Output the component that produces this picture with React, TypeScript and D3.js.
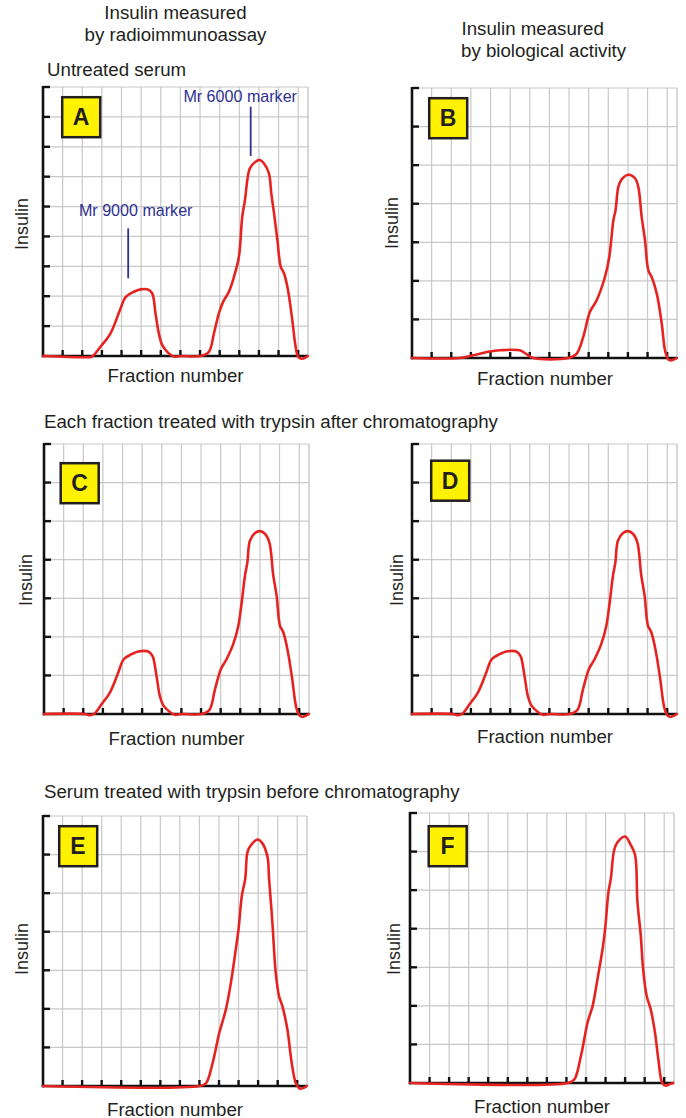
import React from "react";
import * as d3 from "d3";

// ---------- DATA (fraction number, insulin) ----------
const curveA: [number, number][] = [
  [0, 0], [2.33, -0.04], [2.5, -0.02], [2.93, 0.31], [3.44, 0.76], [3.95, 1.59], [4.2, 1.96],
  [4.63, 2.15], [4.97, 2.23], [5.31, 2.23], [5.56, 2.1], [5.73, 1.43], [5.9, 0.76], [6.07, 0.37],
  [6.33, 0.14], [6.67, -0.02], [7.0, 0], [8.03, 0], [8.45, 0.14], [8.71, 0.76], [8.96, 1.43],
  [9.18, 1.82], [9.47, 2.15], [9.73, 2.65], [9.98, 3.32], [10.15, 4.66], [10.29, 5.22],
  [10.41, 5.89], [10.54, 6.28], [10.83, 6.5], [11.05, 6.56], [11.26, 6.44], [11.51, 6.11],
  [11.63, 5.44], [11.77, 4.77], [11.94, 3.88], [12.11, 2.99], [12.28, 2.76], [12.48, 2.21],
  [12.7, 1.2], [12.87, 0.31], [13.01, -0.04], [13.21, -0.09], [13.5, 0],
];

const curveB: [number, number][] = [
  [0, 0], [2.43, 0], [3.11, 0.07], [3.96, 0.17], [4.47, 0.2], [5.49, 0.2], [5.83, 0.1],
  [6.17, 0], [7.96, 0], [8.38, 0.11], [8.72, 0.54], [9.06, 1.19], [9.4, 1.49], [9.83, 2.1],
  [10.05, 2.62], [10.26, 3.57], [10.37, 3.83], [10.51, 4.43], [10.68, 4.63], [11.02, 4.75],
  [11.36, 4.66], [11.53, 4.43], [11.7, 3.66], [11.87, 3.05], [12.04, 2.27], [12.21, 2.1],
  [12.47, 1.67], [12.72, 0.9], [12.89, 0.2], [13.06, -0.04], [13.23, -0.06], [13.5, 0],
];

const curveCD: [number, number][] = [
  [0, 0], [2.07, 0], [2.36, -0.03], [2.59, 0.02], [2.93, 0.25], [3.35, 0.55], [3.78, 1.07],
  [4.06, 1.42], [4.46, 1.55], [4.8, 1.62], [5.31, 1.62], [5.53, 1.5], [5.73, 0.99], [5.9, 0.47],
  [6.07, 0.23], [6.41, 0.05], [6.67, -0.02], [7.0, 0], [8.03, 0], [8.42, 0.1], [8.71, 0.64],
  [9.01, 1.16], [9.3, 1.42], [9.64, 1.81], [9.9, 2.29], [10.07, 2.89], [10.24, 3.59],
  [10.36, 3.93], [10.49, 4.49], [10.75, 4.69], [11.0, 4.74], [11.26, 4.67], [11.48, 4.45],
  [11.68, 3.59], [11.85, 3.07], [12.02, 2.29], [12.19, 2.12], [12.4, 1.68], [12.62, 1.0],
  [12.87, 0.13], [13.04, -0.05], [13.21, -0.07], [13.5, 0],
];

const curveE: [number, number][] = [
  [0, 0], [7.99, 0], [8.33, 0.07], [8.67, 0.59], [9.01, 1.37], [9.35, 1.98], [9.61, 2.68],
  [9.86, 3.55], [10.0, 4.07], [10.17, 4.94], [10.34, 5.37], [10.46, 6.07], [10.63, 6.24],
  [10.97, 6.39], [11.22, 6.29], [11.48, 5.94], [11.56, 5.37], [11.73, 4.24], [11.9, 2.94],
  [12.07, 2.33], [12.24, 2.07], [12.5, 1.46], [12.72, 0.59], [12.93, 0.07], [13.1, -0.06],
  [13.27, -0.06], [13.5, 0],
];

const curveF: [number, number][] = [
  [0, 0], [8.07, 0], [8.4, 0.09], [8.74, 0.7], [9.08, 1.57], [9.34, 2.0], [9.59, 2.7],
  [9.85, 3.48], [9.98, 4.0], [10.15, 4.96], [10.27, 5.3], [10.44, 6.04], [10.61, 6.24],
  [11.0, 6.39], [11.29, 6.17], [11.51, 5.91], [11.63, 4.7], [11.8, 3.83], [11.92, 2.96],
  [12.1, 2.26], [12.31, 1.91], [12.53, 1.3], [12.7, 0.61], [12.9, 0], [13.07, -0.07],
  [13.24, -0.04], [13.46, 0],
];

const fractionTicks = d3.range(1, 14);
const xMax = 13.5;
const yLabel = "Insulin";
const xLabel = "Fraction number";
const markerLabels = ["Mr 9000 marker", "Mr 6000 marker"];
const markerFractions = [4.34, 10.58];
const markerRanges: [number, number][] = [[2.6, 4.27], [6.69, 8.34]];

// ---------- LAYOUT ----------
const markerTextOffsets = [[7.5, 216], [-10.5, 101.7]];
const panels = [
  { letter: "A", data: curveA, yMax: 9, left: 43, top: 87, w: 265, h: 269, box: [61, 96], yl: [28, 224], xl: [175.5, 382] },
  { letter: "B", data: curveB, yMax: 7, left: 412, top: 88, w: 265, h: 270, box: [428, 97], yl: [398, 223], xl: [545, 385] },
  { letter: "C", data: curveCD, yMax: 7, left: 44, top: 444, w: 265, h: 270, box: [59.5, 462], yl: [32, 580], xl: [176.5, 745] },
  { letter: "D", data: curveCD, yMax: 7, left: 412, top: 444, w: 265, h: 270, box: [430, 459.5], yl: [402.5, 580], xl: [545, 743] },
  { letter: "E", data: curveE, yMax: 7, left: 43, top: 816, w: 264, h: 270, box: [58, 825], yl: [27.5, 949], xl: [175, 1115.5] },
  { letter: "F", data: curveF, yMax: 7, left: 410, top: 813, w: 264, h: 270, box: [427.5, 825], yl: [400, 949], xl: [542, 1113] },
];

const FONT = "'Liberation Sans', Arial, Helvetica, sans-serif";
const TEXT = "#231f20";
const RED = "#e52421";
const GRID = "#c8c8c8";
const BLUE = "#2e3192";
const FS = 18.7;

function Panel({ p }: { p: (typeof panels)[number] }) {
  const x = d3.scaleLinear().domain([0, xMax]).range([0, p.w]);
  const y = d3.scaleLinear().domain([0, p.yMax]).range([p.h, 0]);
  const yTicks = d3.range(1, p.yMax + 1);
  const line = d3
    .line<[number, number]>()
    .x((d) => x(d[0]))
    .y((d) => y(d[1]))
    .curve(d3.curveCatmullRom.alpha(0.5));
  return (
    <g>
      <g transform={`translate(${p.left},${p.top})`}>
        {fractionTicks.map((t) => (
          <line key={"gx" + t} x1={x(t)} x2={x(t)} y1={0} y2={p.h} stroke={GRID} strokeWidth={1.2} />
        ))}
        {yTicks.map((t) => (
          <line key={"gy" + t} x1={0} x2={p.w} y1={y(t)} y2={y(t)} stroke={GRID} strokeWidth={1.2} />
        ))}
        <line x1={p.w} x2={p.w} y1={0} y2={p.h} stroke={GRID} strokeWidth={1.4} />
        <line x1={0} x2={0} y1={-1} y2={p.h + 1.2} stroke="#111" strokeWidth={2.6} />
        <line x1={-1.2} x2={p.w} y1={p.h} y2={p.h} stroke="#111" strokeWidth={2.6} />
        {yTicks.map((t) => (
          <line key={"ty" + t} x1={0} x2={7} y1={y(t)} y2={y(t)} stroke="#111" strokeWidth={2.4} />
        ))}
        {fractionTicks.map((t) => (
          <line key={"tx" + t} x1={x(t)} x2={x(t)} y1={p.h} y2={p.h - 6} stroke="#111" strokeWidth={2.4} />
        ))}
        <path d={line(p.data) || ""} fill="none" stroke={RED} strokeWidth={2.6} strokeLinejoin="round" strokeLinecap="round" />
        {p.letter === "A" &&
          markerLabels.map((m, i) => (
            <g key={m}>
              <line
                x1={x(markerFractions[i])}
                x2={x(markerFractions[i])}
                y1={y(markerRanges[i][0])}
                y2={y(markerRanges[i][1])}
                stroke={BLUE}
                strokeWidth={1.8}
              />
              <text
                x={x(markerFractions[i]) + markerTextOffsets[i][0]}
                y={markerTextOffsets[i][1] - p.top}
                textAnchor="middle"
                fontSize={16.1}
                fill={BLUE}
                fontFamily={FONT}
              >
                {m}
              </text>
            </g>
          ))}
      </g>
      <rect x={p.box[0] + 1.2} y={p.box[1] + 1.2} width={38} height={40} fill="#fff200" stroke="#231f20" strokeWidth={2.5} />
      <text x={p.box[0] + 20} y={p.box[1] + 29} textAnchor="middle" fontSize={23} fontWeight="bold" fill={TEXT} fontFamily={FONT}>
        {p.letter}
      </text>
      <text
        transform={`translate(${p.yl[0]},${p.yl[1]}) rotate(-90)`}
        textAnchor="middle"
        fontSize={18}
        fill={TEXT}
        fontFamily={FONT}
      >
        {yLabel}
      </text>
      <text x={p.xl[0]} y={p.xl[1]} textAnchor="middle" fontSize={FS} fill={TEXT} fontFamily={FONT}>
        {xLabel}
      </text>
    </g>
  );
}

export default function App() {
  return (
    <svg width={686} height={1118} style={{ position: "absolute", left: 0, top: 0, background: "#fff" }}>
      <rect width={686} height={1118} fill="#fff" />
      <g fontFamily={FONT} fill={TEXT} fontSize={FS}>
        <text x={175.5} y={19} textAnchor="middle">Insulin measured</text>
        <text x={175.5} y={41} textAnchor="middle">by radioimmunoassay</text>
        <text x={47} y={76}>Untreated serum</text>
        <text x={461.5} y={35}>Insulin measured</text>
        <text x={461} y={57}>by biological activity</text>
        <text x={44} y={428}>Each fraction treated with trypsin after chromatography</text>
        <text x={44} y={798}>Serum treated with trypsin before chromatography</text>
      </g>
      {panels.map((p) => (
        <Panel key={p.letter} p={p} />
      ))}
    </svg>
  );
}
